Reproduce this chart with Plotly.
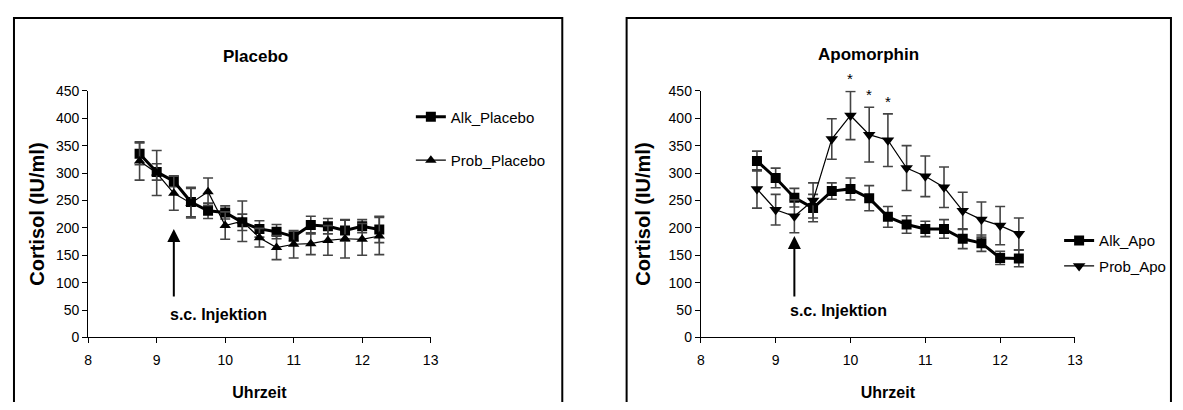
import plotly.graph_objects as go

# ---------------- data ----------------
time_h = [8.75, 9.0, 9.25, 9.5, 9.75, 10.0, 10.25, 10.5, 10.75, 11.0, 11.25, 11.5, 11.75, 12.0, 12.25]

alk_placebo = [335, 302, 285, 247, 231, 228, 210, 198, 193, 184, 205, 203, 195, 203, 197]
alk_placebo_err = [20, 15, 10, 27, 14, 12, 15, 15, 13, 8, 16, 14, 19, 12, 24]
prob_placebo = [322, 300, 263, 245, 266, 204, 212, 182, 164, 170, 171, 177, 180, 179, 185]
prob_placebo_err = [35, 41, 31, 27, 25, 25, 37, 17, 22, 25, 20, 27, 35, 29, 34]

alk_apo = [322, 291, 255, 236, 267, 271, 254, 220, 206, 198, 198, 180, 172, 145, 144]
alk_apo_err = [18, 18, 17, 25, 15, 20, 23, 19, 16, 14, 17, 18, 15, 12, 15]
prob_apo = [271, 233, 221, 250, 362, 405, 370, 360, 309, 294, 274, 231, 215, 204, 189]
prob_apo_err = [35, 28, 30, 32, 37, 44, 50, 48, 41, 37, 37, 34, 32, 35, 29]

x_ticks = [8, 9, 10, 11, 12, 13]
y_ticks = [0, 50, 100, 150, 200, 250, 300, 350, 400, 450]

significant_times = [10.0, 10.25, 10.5]
injection_time = 9.25

# ---------------- figure ----------------
# page body keeps its default 8px margin, so the figure is 16px smaller than the window
PAGE_MARGIN = 8
W, H = 1183 - 2 * PAGE_MARGIN, 410 - 2 * PAGE_MARGIN
FONT = "Liberation Sans, Arial, sans-serif"

fig = go.Figure()

def add_series(x, y, err, name, symbol, lw, ms, xa, ya, legend):
    fig.add_trace(go.Scatter(
        x=x, y=y, name=name, mode="lines+markers",
        line=dict(color="black", width=lw),
        marker=dict(symbol=symbol, size=ms, color="black"),
        error_y=dict(type="data", array=err, visible=True, color="#444444",
                     thickness=1.6, width=5),
        xaxis=xa, yaxis=ya, legend=legend, legendgroup=name,
    ))

add_series(time_h, alk_placebo, alk_placebo_err, "Alk_Placebo", "square", 3, 10, "x", "y", "legend")
add_series(time_h, prob_placebo, prob_placebo_err, "Prob_Placebo", "triangle-up", 1.2, 10, "x", "y", "legend")
add_series(time_h, alk_apo, alk_apo_err, "Alk_Apo", "square", 3, 10, "x2", "y2", "legend2")
add_series(time_h, prob_apo, prob_apo_err, "Prob_Apo", "triangle-down", 1.2, 11, "x2", "y2", "legend2")

def px_x(p):
    return (p - PAGE_MARGIN) / W

def px_y(p):
    return 1 - (p - PAGE_MARGIN) / H

axis_common = dict(
    showline=True, linecolor="black", linewidth=1.2,
    ticks="outside", ticklen=5, tickcolor="black", tickwidth=1.2,
    showgrid=False, zeroline=False,
    tickfont=dict(family=FONT, size=14, color="black"),
)

x_dom_left = [px_x(85), px_x(431)]
x_dom_right = [px_x(704), px_x(1082)]
y_dom = [px_y(343), px_y(86)]

xt = dict(text="<b>Uhrzeit</b>", font=dict(family=FONT, size=16), standoff=19)
yt_font = dict(family=FONT, size=20)

fig.update_layout(
    width=W, height=H,
    margin=dict(l=0, r=0, t=0, b=0),
    paper_bgcolor="white", plot_bgcolor="white",
    font=dict(family=FONT, color="black"),
    xaxis=dict(domain=x_dom_left, range=[8, 13], tickvals=x_ticks, anchor="y",
               title=xt, ticklabelstandoff=5, **axis_common),
    yaxis=dict(domain=y_dom, range=[0, 450], tickvals=y_ticks, anchor="x",
               title=dict(text="<b>Cortisol (IU/ml)</b>", font=yt_font, standoff=5),
               **axis_common),
    xaxis2=dict(domain=x_dom_right, range=[8, 13], tickvals=x_ticks, anchor="y2",
                title=xt, ticklabelstandoff=5, **axis_common),
    yaxis2=dict(domain=y_dom, range=[0, 450], tickvals=y_ticks, anchor="x2",
                title=dict(text="<b>Cortisol (IU/ml)</b>", font=yt_font, standoff=12),
                **axis_common),
    legend=dict(x=px_x(411), y=px_y(96), xanchor="left", yanchor="top",
                font=dict(family=FONT, size=15, color="black"),
                traceorder="grouped", tracegroupgap=21, bgcolor="rgba(0,0,0,0)"),
    legend2=dict(x=px_x(1066), y=px_y(225), xanchor="left", yanchor="top",
                 font=dict(family=FONT, size=15, color="black"),
                 traceorder="grouped", tracegroupgap=3, bgcolor="rgba(0,0,0,0)"),
    showlegend=True,
)

# frames around each panel
for x0, x1 in [(10, 564), (629, 1179)]:
    fig.add_shape(type="rect", xref="paper", yref="paper",
                  x0=px_x(x0), x1=px_x(x1), y0=-0.1, y1=px_y(10),
                  line=dict(color="black", width=2))

# titles
fig.add_annotation(xref="paper", yref="paper", x=px_x(254), y=px_y(50),
                   xanchor="center", yanchor="middle",
                   text="<b>Placebo</b>", showarrow=False,
                   font=dict(family=FONT, size=17, color="black"))
fig.add_annotation(xref="paper", yref="paper", x=px_x(873), y=px_y(48),
                   xanchor="center", yanchor="middle",
                   text="<b>Apomorphin</b>", showarrow=False,
                   font=dict(family=FONT, size=17, color="black"))

# injection arrows + labels
for xr, yr, tip, tail, lab in [("x", "y", 198, 72, 42), ("x2", "y2", 185, 72, 50)]:
    fig.add_annotation(xref=xr, yref=yr, x=injection_time, y=tip,
                       ax=injection_time, ay=tail, axref=xr, ayref=yr,
                       showarrow=True, arrowhead=2, arrowsize=1.3, arrowwidth=2,
                       arrowcolor="black", text="")
    fig.add_annotation(xref=xr, yref=yr, x=injection_time, y=lab,
                       xanchor="left", yanchor="middle", xshift=-6, showarrow=False,
                       text="<b>s.c. Injektion</b>",
                       font=dict(family=FONT, size=16, color="black"))

# significance asterisks
for t in significant_times:
    i = time_h.index(t)
    fig.add_annotation(xref="x2", yref="y2", x=t, y=prob_apo[i] + prob_apo_err[i],
                       yanchor="bottom", yshift=2, showarrow=False, text="*",
                       font=dict(family=FONT, size=15, color="black"))

fig.write_html("out.html", config={"displayModeBar": False})
